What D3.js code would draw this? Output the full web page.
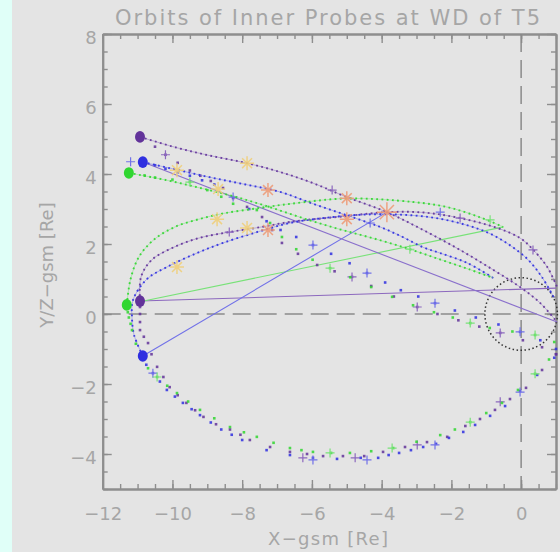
<!DOCTYPE html>
<html>
<head>
<meta charset="utf-8">
<script src="https://cdn.jsdelivr.net/npm/d3@7"></script>
<style>
  body { margin: 0; background: #e4e4e4; }
  svg { display: block; }
</style>
</head>
<body>
<div id="chart"></div>
<script>
const xRange = [-12, 1];
const yRange = [-5, 8];
const xTickValues = [-12, -10, -8, -6, -4, -2, 0];
const yTickValues = [-4, -2, 0, 2, 4, 6, 8];

// start positions (big dots)
const purpleStart = [[-10.93, 5.06], [-10.93, 0.37]];
const blueStart = [[-10.85, 4.34], [-10.85, -1.2]];
const greenStart = [[-11.25, 4.03], [-11.31, 0.26]];

// dense tracks leaving the upper dots
const purpleTop = [[-10.93, 5.06], [-9.87, 4.75], [-8.9, 4.52], [-7.86, 4.31], [-6.92, 4.06], [-5.97, 3.74], [-5.0, 3.34], [-3.85, 2.91], [-2.81, 2.4], [-1.75, 1.83], [-0.8, 1.26], [-0.03, 0.77], [0.55, 0.31], [1.03, -0.23]];
const blueTop = [[-10.85, 4.34], [-9.87, 4.12], [-8.9, 3.9], [-7.9, 3.7], [-6.92, 3.49], [-5.97, 3.15], [-5.0, 2.82], [-4.05, 2.49], [-3.4, 2.2], [-2.8, 1.9], [-2.32, 1.74], [-1.55, 1.46], [-0.8, 1.03]];
const greenTop = [[-11.25, 4.03], [-10.2, 3.83], [-9.2, 3.6], [-8.2, 3.35], [-7.2, 3.05], [-6.2, 2.72], [-5.2, 2.42], [-4.2, 2.15], [-3.19, 1.85], [-2.3, 1.55], [-1.5, 1.28], [-0.8, 1.03]];

// sparse dots leaving the upper dots
const purpleFan = [[-10.5, 4.78], [-10.2, 4.55], [-9.85, 4.32], [-9.5, 4.1], [-9.2, 3.95], [-8.9, 3.8], [-8.55, 3.6], [-8.26, 3.31], [-7.86, 3.06], [-7.43, 2.77], [-7.14, 2.4], [-6.86, 2.03], [-6.4, 1.72], [-5.85, 1.4], [-5.35, 1.22], [-4.85, 1.06], [-4.3, 0.8], [-3.65, 0.5], [-2.98, 0.2], [-2.4, 0.0], [-1.8, -0.18], [-1.2, -0.36], [-0.6, -0.54], [0.05, -0.75], [0.6, -0.95], [1.0, -1.15]];
const blueFan = [[-10.5, 4.25], [-10.2, 4.15], [-9.85, 4.05], [-9.5, 3.95], [-9.15, 3.82], [-8.8, 3.7], [-8.26, 3.34], [-7.8, 3.0], [-7.3, 2.65], [-6.9, 2.4], [-6.45, 2.2], [-5.97, 1.97], [-5.45, 1.72], [-4.92, 1.45], [-4.42, 1.17], [-3.9, 0.9], [-3.45, 0.68], [-2.95, 0.5], [-2.47, 0.31], [-1.9, 0.1], [-1.3, -0.1], [-0.65, -0.3], [-0.03, -0.51], [0.55, -0.75], [1.0, -1.0]];
const greenFan = [[-10.8, 3.96], [-10.5, 3.9], [-10.0, 3.84], [-9.5, 3.77], [-9.0, 3.54], [-8.6, 3.35], [-8.26, 3.15], [-7.58, 2.97], [-7.2, 2.6], [-6.86, 2.2], [-6.45, 1.85], [-5.98, 1.55], [-5.48, 1.31], [-4.9, 1.05], [-4.3, 0.77], [-3.7, 0.49], [-3.1, 0.25], [-2.5, 0.05], [-1.96, -0.1], [-1.46, -0.26], [-0.9, -0.4], [-0.25, -0.5], [0.4, -0.6], [0.95, -0.8]];

// upper halves of the orbit loops (dense)
const purpleUpper = [[-10.93, 0.37], [-10.9, 1.06], [-10.6, 1.54], [-10.0, 1.89], [-9.24, 2.17], [-8.37, 2.34], [-7.42, 2.49], [-6.63, 2.63], [-5.0, 2.8], [-3.85, 2.91], [-2.8, 2.9], [-1.75, 2.74], [-0.69, 2.46], [-0.03, 2.17], [0.35, 1.83], [0.75, 1.34], [1.03, 0.77]];
const blueUpper = [[-10.85, -1.2], [-11.1, -0.6], [-11.16, -0.1], [-11.13, 0.4], [-10.73, 1.0], [-10.16, 1.34], [-9.3, 1.74], [-8.55, 2.03], [-7.58, 2.34], [-6.63, 2.6], [-5.5, 2.76], [-4.5, 2.84], [-3.5, 2.84], [-2.5, 2.75], [-1.6, 2.55], [-0.9, 2.3], [-0.3, 1.95], [0.2, 1.55], [0.6, 1.05], [0.95, 0.45]];
const greenUpper = [[-11.31, 0.26], [-11.2, 1.0], [-10.95, 1.65], [-10.5, 2.15], [-9.9, 2.5], [-9.2, 2.72], [-8.5, 2.88], [-7.5, 3.03], [-6.6, 3.15], [-5.0, 3.3], [-3.1, 3.2], [-2.1, 3.05], [-1.2, 2.77], [-0.52, 2.49]];

// lower halves of the orbit loops (sparse dots)
const purpleLower = [[-10.93, 0.2], [-10.93, 0.0], [-10.93, -0.23], [-10.93, -0.46], [-10.82, -0.65], [-10.7, -0.83], [-10.6, -1.15], [-10.44, -1.51], [-10.26, -1.8], [-10.08, -2.09], [-9.85, -2.32], [-9.6, -2.54], [-9.35, -2.75], [-9.11, -2.94], [-8.75, -3.15], [-8.35, -3.3], [-8.05, -3.45], [-7.78, -3.6], [-7.2, -3.8], [-6.63, -3.94], [-6.14, -4.0], [-5.68, -4.06], [-5.11, -4.06], [-4.5, -4.06], [-3.96, -3.94], [-3.33, -3.8], [-2.7, -3.66], [-2.12, -3.51], [-1.6, -3.2], [-1.18, -3.0], [-0.75, -2.74], [-0.32, -2.43], [0.14, -2.11], [0.6, -1.6], [1.0, -1.15]];
const blueLower = [[-10.75, -1.45], [-10.56, -1.69], [-10.36, -1.93], [-10.16, -2.17], [-9.93, -2.36], [-9.7, -2.54], [-9.45, -2.72], [-9.21, -2.89], [-8.9, -3.1], [-8.6, -3.3], [-8.3, -3.45], [-8.0, -3.6], [-7.3, -3.89], [-6.63, -4.03], [-5.97, -4.11], [-5.28, -4.14], [-4.6, -4.11], [-4.1, -4.11], [-3.8, -4.03], [-3.5, -3.97], [-3.16, -3.89], [-2.81, -3.8], [-2.44, -3.71], [-2.07, -3.54], [-1.66, -3.37], [-1.32, -3.17], [-0.89, -2.91], [-0.46, -2.63], [-0.03, -2.2], [0.46, -1.74], [0.95, -1.25]];
const greenLower = [[-11.28, 0.05], [-11.25, -0.1], [-11.2, -0.28], [-11.16, -0.46], [-11.05, -0.85], [-10.93, -1.23], [-10.7, -1.55], [-10.44, -1.8], [-10.15, -2.05], [-9.87, -2.26], [-9.55, -2.5], [-9.21, -2.74], [-8.8, -2.98], [-8.35, -3.23], [-7.95, -3.38], [-7.58, -3.51], [-7.1, -3.68], [-6.63, -3.83], [-6.3, -3.89], [-5.97, -3.94], [-5.45, -3.97], [-4.91, -3.97], [-4.3, -3.92], [-3.67, -3.83], [-3.0, -3.65], [-2.32, -3.46], [-1.9, -3.3], [-1.46, -3.09], [-1.0, -2.83], [-0.55, -2.54], [-0.09, -2.17], [0.4, -1.71], [0.8, -1.3]];

// hour marks
const purplePlus = [[-6.26, -4.11], [-4.76, -4.11], [-2.98, -3.74], [-0.6, -2.51], [-5.42, 3.54], [-1.75, 2.74], [0.34, 1.83], [-4.85, 1.06], [-2.98, 0.2], [-0.6, -0.54], [-10.2, 4.55], [-8.37, 2.34]];
const bluePlus = [[-5.97, -4.17], [-4.42, -4.17], [-2.47, -3.74], [-0.03, -2.23], [-4.33, 2.6], [-2.32, 2.91], [-5.97, 1.97], [-4.42, 1.17], [-2.47, 0.31], [-0.03, -0.51], [-11.2, 4.35], [-8.26, 3.34], [-10.56, -1.69]];
const greenPlus = [[-5.48, -3.97], [-3.7, -3.83], [-1.46, -3.09], [0.4, -1.71], [-5.48, 1.31], [-3.19, 1.85], [-1.46, -0.26], [0.4, -0.6], [-0.89, 2.69], [-9.5, 3.77], [-10.44, -1.8]];

// straight connectors
const purpleLine = [[-10.93, 0.37], [1.0, 0.74]];
const greenLine = [[-10.93, 0.35], [-0.5, 2.49]];
const blueLine = [[-10.85, -1.2], [-3.85, 2.91]];
const blueLine2 = [[-10.85, 4.34], [1.03, -0.23]];

// asterisks
const yellowStars = [[-9.87, 4.11], [-7.86, 4.31], [-8.69, 3.57], [-8.72, 2.71], [-7.86, 2.46], [-9.87, 1.34]];
const orangeStars = [[-7.26, 3.54], [-7.26, 2.4], [-5.0, 3.31], [-5.0, 2.71], [-3.85, 2.91]];

const circleRadius = 1.04;

const width = 560;
const height = 552;
const font = "'DejaVu Sans', sans-serif";
const textColor = "#a6a6a6";
const frameColor = "#8e8e8e";

const probes = [
  { color: "#62339a", light: "#8c68be", start: purpleStart, top: purpleTop, fan: purpleFan, upper: purpleUpper, lower: purpleLower, plus: purplePlus },
  { color: "#2f2fe0", light: "#7272e8", start: blueStart, top: blueTop, fan: blueFan, upper: blueUpper, lower: blueLower, plus: bluePlus },
  { color: "#30d630", light: "#78e278", start: greenStart, top: greenTop, fan: greenFan, upper: greenUpper, lower: greenLower, plus: greenPlus },
];

const svg = d3.select("#chart").append("svg")
  .attr("width", width)
  .attr("height", height);

svg.append("rect").attr("width", width).attr("height", height).attr("fill", "#e4e4e4");
svg.append("rect").attr("width", 12).attr("height", height).attr("fill", "#e0fff8");

const xScale = d3.scaleLinear().domain(xRange).range([102.7, 556]);
const yScale = d3.scaleLinear().domain(yRange).range([489, 34]);

/* axes */
const fmt = d3.format("d");
const styleAxis = (g) => {
  g.select(".domain").attr("stroke", frameColor).attr("stroke-width", 2);
  g.selectAll(".tick line").attr("stroke", frameColor).attr("stroke-width", 1.4);
  g.selectAll("text").attr("fill", textColor).style("font-family", font).style("font-size", "18px");
};

svg.append("g")
  .attr("transform", `translate(0, ${yScale(yRange[0])})`)
  .call(d3.axisBottom(xScale).tickValues(xScale.ticks(26)).tickSize(-5).tickSizeOuter(0).tickFormat(""))
  .call(styleAxis);
svg.append("g")
  .attr("transform", `translate(0, ${yScale(yRange[0])})`)
  .call(d3.axisBottom(xScale).tickValues(xTickValues).tickSize(-9).tickSizeOuter(0).tickPadding(18).tickFormat(fmt))
  .call(styleAxis);
svg.append("g")
  .attr("transform", `translate(0, ${yScale(yRange[1])})`)
  .call(d3.axisTop(xScale).tickValues(xScale.ticks(26)).tickSize(-5).tickSizeOuter(0).tickFormat(""))
  .call(styleAxis);
svg.append("g")
  .attr("transform", `translate(0, ${yScale(yRange[1])})`)
  .call(d3.axisTop(xScale).tickValues(xTickValues).tickSize(-9).tickSizeOuter(0).tickFormat(""))
  .call(styleAxis);

svg.append("g")
  .attr("transform", `translate(${xScale(xRange[0])}, 0)`)
  .call(d3.axisLeft(yScale).tickValues(yScale.ticks(26)).tickSize(-5).tickSizeOuter(0).tickFormat(""))
  .call(styleAxis);
svg.append("g")
  .attr("transform", `translate(${xScale(xRange[0])}, 0)`)
  .call(d3.axisLeft(yScale).tickValues(yTickValues).tickSize(-9).tickSizeOuter(0).tickPadding(6).tickFormat(fmt))
  .call(styleAxis)
  .selectAll("text").attr("dy", "0.55em");
svg.append("g")
  .attr("transform", `translate(${xScale(xRange[1])}, 0)`)
  .call(d3.axisRight(yScale).tickValues(yScale.ticks(26)).tickSize(-5).tickSizeOuter(0).tickFormat(""))
  .call(styleAxis);
svg.append("g")
  .attr("transform", `translate(${xScale(xRange[1])}, 0)`)
  .call(d3.axisRight(yScale).tickValues(yTickValues).tickSize(-9).tickSizeOuter(0).tickFormat(""))
  .call(styleAxis);

/* titles */
svg.append("text")
  .attr("x", 115).attr("y", 25)
  .attr("textLength", 425).attr("lengthAdjust", "spacing")
  .attr("fill", textColor).style("font-family", font).style("font-size", "21px")
  .text("Orbits of Inner Probes at WD of T5");
svg.append("text")
  .attr("x", 268).attr("y", 545)
  .attr("textLength", 120).attr("lengthAdjust", "spacing")
  .attr("fill", textColor).style("font-family", font).style("font-size", "18px")
  .text("X\u2212gsm [Re]");
svg.append("text")
  .attr("transform", "translate(53, 265) rotate(-90)")
  .attr("text-anchor", "middle")
  .attr("fill", textColor).style("font-family", font).style("font-size", "18px")
  .text("Y/Z\u2212gsm [Re]");

/* plot area */
svg.append("clipPath").attr("id", "clip")
  .append("rect")
  .attr("x", xScale(xRange[0])).attr("y", yScale(yRange[1]))
  .attr("width", xScale(xRange[1]) - xScale(xRange[0]) + 3)
  .attr("height", yScale(yRange[0]) - yScale(yRange[1]));
const plot = svg.append("g").attr("clip-path", "url(#clip)");

// reference lines
plot.append("line")
  .attr("x1", xScale(xRange[0])).attr("x2", xScale(xRange[1]))
  .attr("y1", yScale(0)).attr("y2", yScale(0))
  .attr("stroke", "#8a8a8a").attr("stroke-width", 1.5).attr("stroke-dasharray", "18 8");
plot.append("line")
  .attr("x1", xScale(0)).attr("x2", xScale(0))
  .attr("y1", yScale(yRange[1])).attr("y2", yScale(yRange[0]))
  .attr("stroke", "#8a8a8a").attr("stroke-width", 1.5).attr("stroke-dasharray", "18 8");
plot.append("circle")
  .attr("cx", xScale(0)).attr("cy", yScale(0))
  .attr("r", xScale(circleRadius) - xScale(0))
  .attr("fill", "none").attr("stroke", "#333").attr("stroke-width", 1.5)
  .attr("stroke-dasharray", "1.5 2.5");

const line = d3.line()
  .curve(d3.curveCatmullRom)
  .x((d) => xScale(d[0]))
  .y((d) => yScale(d[1]));
const straight = d3.line().x((d) => xScale(d[0])).y((d) => yScale(d[1]));

// connectors
[[purpleLine, probes[0].light], [greenLine, probes[2].light], [blueLine, probes[1].light], [blueLine2, "#8a70cc"]]
  .forEach(([pts, c]) => {
    plot.append("path").attr("d", straight(pts))
      .attr("fill", "none").attr("stroke", c).attr("stroke-width", 1.1);
  });

probes.forEach((p) => {
  [p.top, p.upper].forEach((pts) => {
    plot.append("path").attr("d", line(pts))
      .attr("fill", "none").attr("stroke", p.light).attr("stroke-width", 0.8).attr("opacity", 0.6);
    plot.append("path").attr("d", line(pts))
      .attr("fill", "none").attr("stroke", p.color).attr("stroke-width", 1.9)
      .attr("stroke-dasharray", "1.8 3.4").attr("opacity", 0.9);
  });

  plot.append("g").selectAll("rect")
    .data(p.fan.concat(p.lower))
    .enter().append("rect")
    .attr("x", (d) => xScale(d[0]) - 1.3)
    .attr("y", (d) => yScale(d[1]) - 1.3)
    .attr("width", 2.6).attr("height", 2.6)
    .attr("fill", p.color).attr("opacity", 0.85);

  plot.append("g").selectAll("path")
    .data(p.plus)
    .enter().append("path")
    .attr("d", (d) => {
      const cx = xScale(d[0]), cy = yScale(d[1]);
      return `M${cx - 4.5},${cy}H${cx + 4.5}M${cx},${cy - 4.5}V${cy + 4.5}`;
    })
    .attr("stroke", p.light).attr("stroke-width", 1.2);
});

// asterisks
const star = (g, pts, color, size) => {
  g.selectAll(null).data(pts).enter().append("path")
    .attr("d", (d, i) => {
      const cx = xScale(d[0]), cy = yScale(d[1]);
      const r = typeof size === "function" ? size(d, i) : size;
      const k = r * 0.7071;
      return `M${cx - r},${cy}H${cx + r}M${cx},${cy - r}V${cy + r}` +
        `M${cx - k},${cy - k}L${cx + k},${cy + k}M${cx - k},${cy + k}L${cx + k},${cy - k}`;
    })
    .attr("stroke", color).attr("stroke-width", 1.5).attr("opacity", 0.9);
};
star(plot.append("g"), yellowStars, "#f0d07c", 7);
star(plot.append("g"), orangeStars, "#ee9c78", (d, i) => (i === orangeStars.length - 1 ? 10 : 7));

// start dots
probes.forEach((p) => {
  plot.append("g").selectAll("ellipse")
    .data(p.start)
    .enter().append("ellipse")
    .attr("cx", (d) => xScale(d[0]))
    .attr("cy", (d) => yScale(d[1]))
    .attr("rx", 5).attr("ry", 5.8)
    .attr("fill", p.color);
});
</script>
</body>
</html>
